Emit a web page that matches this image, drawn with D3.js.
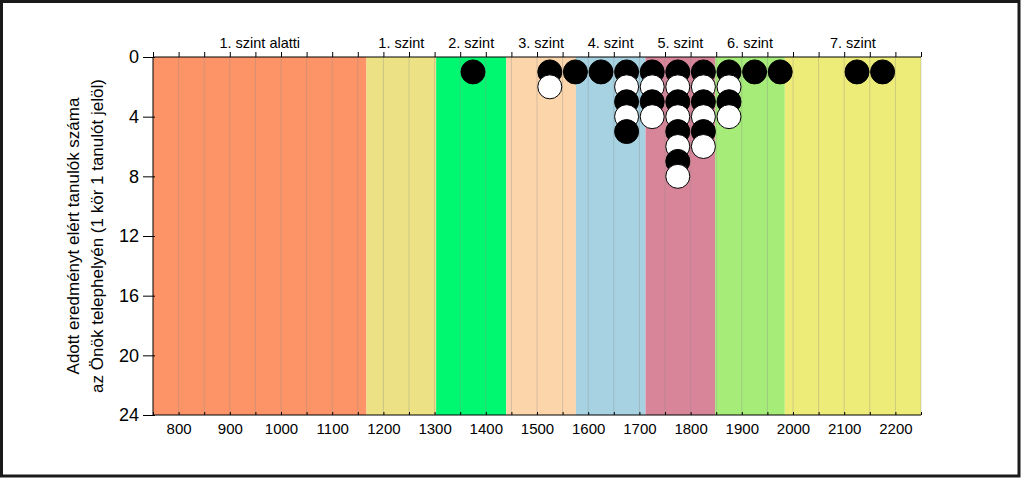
<!DOCTYPE html>
<html>
<head>
<meta charset="utf-8">
<script src="https://cdn.jsdelivr.net/npm/d3@7"></script>
<style>
  body { margin: 0; background: #fff; }
  svg { display: block; font-family: "Liberation Sans", Arial, sans-serif; }
</style>
</head>
<body>
<div id="chart"></div>
<script>
// level bands (score limits) and their names / colours
var levelNames = ["1. szint alatti", "1. szint", "2. szint", "3. szint", "4. szint", "5. szint", "6. szint", "7. szint"];
var levelLimits = [750, 1167, 1303, 1440, 1576, 1712, 1848, 1984, 2250];
var levelColors = ["#fc9468", "#ece285", "#00f870", "#fdd5ab", "#a6d2e2", "#d98599", "#a6ec78", "#eeec78"];

// score bins (centre of 50-point bin) and number of students in each
var binScores = [1375, 1525, 1575, 1625, 1675, 1725, 1775, 1825, 1875, 1925, 1975, 2125, 2175];
var binCounts = [1, 2, 1, 1, 5, 4, 8, 6, 4, 1, 1, 1, 1];

var xTicks = [800, 900, 1000, 1100, 1200, 1300, 1400, 1500, 1600, 1700, 1800, 1900, 2000, 2100, 2200];
var yTicks = [0, 4, 8, 12, 16, 20, 24];

var width = 1024,
    height = 478,
    margin = {left: 153, right: 103, top: 57, bottom: 63};

var svg = d3.select("#chart")
    .append("svg")
    .attr("width", width)
    .attr("height", height);

var x = d3.scaleLinear()
    .domain([750, 2250])
    .range([margin.left, width - margin.right]);

var y = d3.scaleLinear()
    .domain([0, 24])
    .range([margin.top, height - margin.bottom]);

// outer frame
svg.append("rect")
    .attr("x", 1.5)
    .attr("y", 1.5)
    .attr("width", 1017.5)
    .attr("height", 474.5)
    .style("fill", "none")
    .style("stroke", "#1a1a1a")
    .style("stroke-width", 3);

// coloured bands
var bands = levelNames.map(function(n, i) {
    return {name: n, from: levelLimits[i], to: levelLimits[i + 1], color: levelColors[i]};
});

svg.selectAll(".band")
    .data(bands)
    .enter()
    .append("rect")
    .attr("class", "band")
    .attr("x", function(d) { return x(d.from); })
    .attr("y", y(0))
    .attr("width", function(d) { return x(d.to) - x(d.from); })
    .attr("height", y(24) - y(0))
    .style("fill", function(d) { return d.color; });

// grid lines every 50 points
svg.selectAll(".grid")
    .data(d3.range(800, 2251, 50))
    .enter()
    .append("line")
    .attr("class", "grid")
    .attr("x1", function(d) { return x(d); })
    .attr("x2", function(d) { return x(d); })
    .attr("y1", y(0))
    .attr("y2", y(24))
    .style("stroke", "#8a8a8a")
    .style("stroke-opacity", 0.35)
    .style("stroke-width", 1);

// level names on top
svg.selectAll(".levelName")
    .data(bands)
    .enter()
    .append("text")
    .attr("class", "levelName")
    .attr("x", function(d) { return (x(d.from) + x(d.to)) / 2; })
    .attr("y", 48)
    .style("text-anchor", "middle")
    .style("font-size", "14.5px")
    .style("fill", "#000")
    .text(function(d) { return d.name; });

// top axis (ticks only)
svg.append("g")
    .attr("transform", `translate(0,${y(0)})`)
    .call(d3.axisTop(x)
        .tickValues(d3.range(750, 2251, 50))
        .tickSize(5)
        .tickFormat(""))
    .call(function(g) { g.select(".domain").attr("d", `M${x(750)},0H${x(2250)}`); });

// bottom axis
var xAxis = svg.append("g")
    .attr("transform", `translate(0,${y(24)})`)
    .call(d3.axisBottom(x)
        .tickValues(d3.range(750, 2251, 50))
        .tickSize(-3)
        .tickPadding(8)
        .tickFormat(function(d) { return xTicks.indexOf(d) >= 0 ? d : ""; }));
xAxis.select(".domain").attr("d", `M${x(750)},0H${x(2250)}`);
xAxis.selectAll("text")
    .style("font-size", "15px")
    .style("font-family", "Liberation Sans, Arial, sans-serif")
    .style("fill", "#000");

// left axis
var yAxis = svg.append("g")
    .attr("transform", `translate(${x(750)},0)`)
    .call(d3.axisLeft(y)
        .tickValues(yTicks)
        .tickSize(10)
        .tickPadding(4));
yAxis.select(".domain").attr("d", `M0,${y(0)}V${y(24)}`);
yAxis.selectAll(".tick line").attr("x2", 2).attr("x1", -10);
yAxis.selectAll("text")
    .style("font-size", "18px")
    .style("font-family", "Liberation Sans, Arial, sans-serif")
    .style("fill", "#000");

// y axis title
var titleLines = ["Adott eredményt elért tanulók száma", "az Önök telephelyén (1 kör 1 tanulót jelöl)"];
svg.append("text")
    .attr("transform", `translate(79,${(y(0) + y(24)) / 2}) rotate(-90)`)
    .style("text-anchor", "middle")
    .style("font-size", "17px")
    .style("fill", "#000")
    .selectAll("tspan")
    .data(titleLines)
    .enter()
    .append("tspan")
    .attr("x", 0)
    .attr("dy", function(d, i) { return i == 0 ? 0 : 24; })
    .text(function(d) { return d; });

// student circles, one per student, alternating black / white
var dots = [];
binScores.forEach(function(s, i) {
    for (var k = 1; k <= binCounts[i]; k++) {
        dots.push({score: s, n: k});
    }
});

svg.selectAll(".dot")
    .data(dots)
    .enter()
    .append("circle")
    .attr("class", "dot")
    .attr("cx", function(d) { return x(d.score); })
    .attr("cy", function(d) { return y(d.n); })
    .attr("r", 12)
    .style("fill", function(d) { return d.n % 2 == 1 ? "#000" : "#fff"; })
    .style("stroke", "#000")
    .style("stroke-width", 1);
</script>
</body>
</html>
